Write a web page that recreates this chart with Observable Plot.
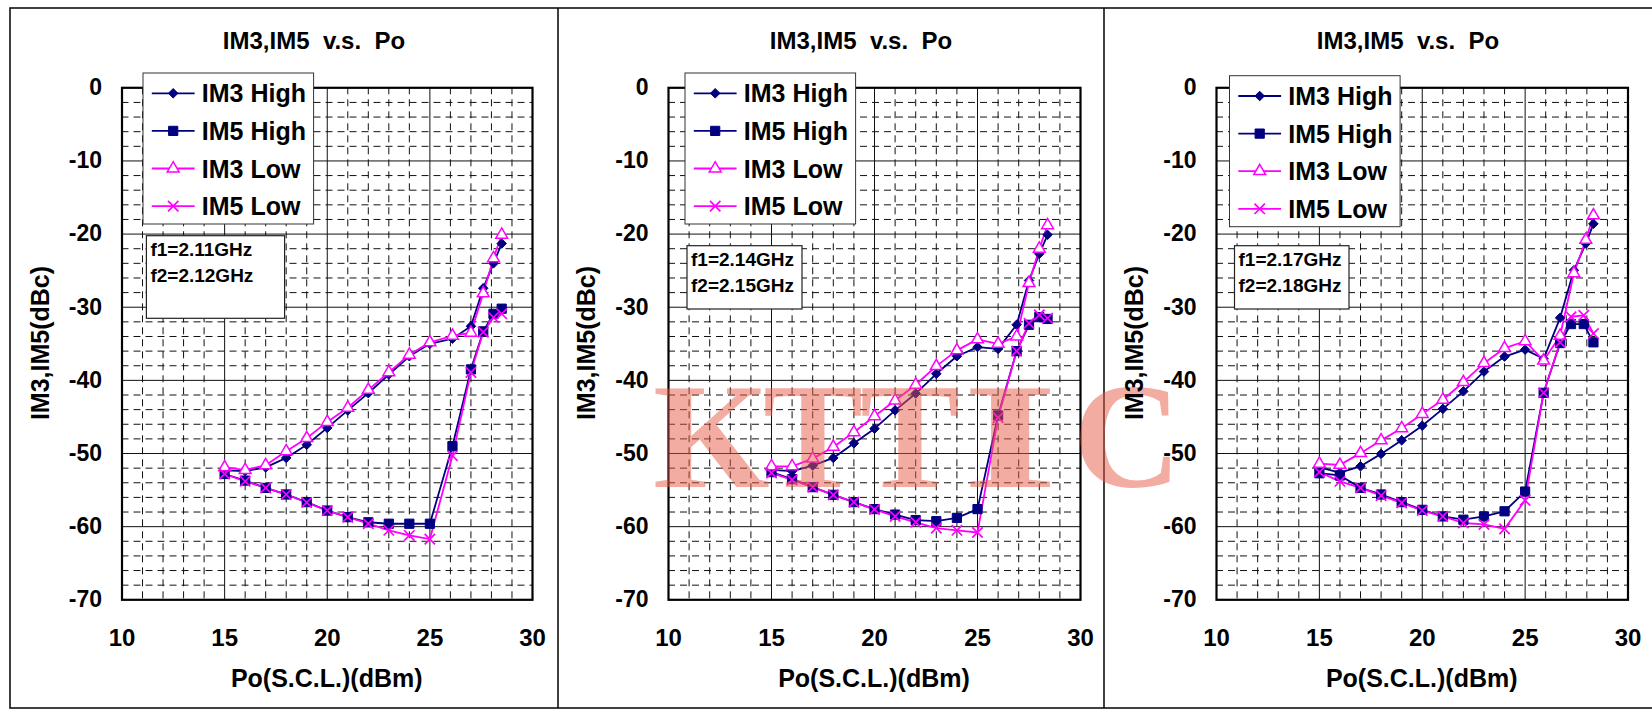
<!DOCTYPE html>
<html><head><meta charset="utf-8">
<script src="https://cdn.jsdelivr.net/npm/d3@7"></script>
<script src="https://cdn.jsdelivr.net/npm/@observablehq/plot@0.6"></script>
<style>
body{margin:0;background:#fff;}
#root{position:relative;width:1652px;height:715px;overflow:hidden;background:#fff;}
.pw{position:absolute;top:0;height:715px;}
.pw svg{display:block;}
#ov{position:absolute;left:0;top:0;pointer-events:none;}
</style></head><body><div id="root"></div>
<script>
// ---------------- data ----------------
const titleText = "IM3,IM5  v.s.  Po";
const xLabel = "Po(S.C.L.)(dBm)";
const yLabel = "IM3,IM5(dBc)";
const seriesNames = ["IM3 High", "IM5 High", "IM3 Low", "IM5 Low"];
const xTicks = [10, 15, 20, 25, 30];
const yTicks = [0, -10, -20, -30, -40, -50, -60, -70];
const freqLabels = [["f1=2.11GHz", "f2=2.12GHz"], ["f1=2.14GHz", "f2=2.15GHz"], ["f1=2.17GHz", "f2=2.18GHz"]];

// panel 1 (2.11 / 2.12 GHz)
const po1 = [15, 16, 17, 18, 19, 20, 21, 22, 23, 24, 25, 26.1, 27, 27.6, 28.1, 28.5];
const im3High1 = [-52.3, -52.4, -51.9, -50.6, -48.8, -46.5, -44.1, -41.75, -39.2, -36.7, -35.0, -34.3, -32.6, -27.4, -24.0, -21.3];
const im5High1 = [-52.8, -53.7, -54.7, -55.6, -56.65, -57.8, -58.7, -59.4, -59.6, -59.6, -59.6, -49.0, -38.5, -33.3, -30.9, -30.2];
const im3Low1 = [-51.9, -52.25, -51.6, -49.7, -47.9, -45.7, -43.75, -41.3, -38.9, -36.5, -34.8, -33.9, -33.5, -28.1, -23.3, -20.1];
const im5Low1 = [-52.8, -53.8, -54.7, -55.6, -56.7, -57.8, -58.7, -59.6, -60.5, -61.2, -61.7, -50.3, -38.9, -33.4, -31.4, -30.9];

// panel 2 (2.14 / 2.15 GHz)
const po2 = [15, 16, 17, 18, 19, 20, 21, 22, 23, 24, 25, 26.0, 26.9, 27.5, 28.0, 28.4];
const im3High2 = [-52.25, -52.4, -51.65, -50.6, -48.6, -46.6, -44.1, -41.8, -39.1, -36.7, -35.45, -35.7, -32.4, -26.35, -22.7, -20.1];
const im5High2 = [-52.55, -53.5, -54.6, -55.65, -56.65, -57.6, -58.35, -59.1, -59.25, -58.8, -57.6, -44.8, -36.0, -32.4, -31.35, -31.6];
const im3Low2 = [-51.75, -51.75, -50.7, -49.1, -47.1, -44.9, -42.75, -40.6, -38.05, -35.9, -34.4, -35.0, -34.0, -26.7, -22.0, -18.8];
const im5Low2 = [-52.65, -53.6, -54.6, -55.65, -56.65, -57.65, -58.6, -59.4, -60.2, -60.5, -60.8, -45.1, -36.0, -32.2, -31.05, -31.5];

// panel 3 (2.17 / 2.18 GHz)
const po3im3 = [15, 16, 17, 18, 19, 20, 21, 22, 23, 24, 25, 25.9, 26.7, 27.37, 27.95, 28.32];
const po3im5 = [15, 16, 17, 18, 19, 20, 21, 22, 23, 24, 25, 25.9, 26.7, 27.23, 27.85, 28.32];
const im3High3 = [-51.9, -52.6, -51.75, -50.05, -48.2, -46.2, -43.9, -41.5, -38.8, -36.75, -35.8, -37.05, -31.45, -24.95, -21.3, -18.6];
const im5High3 = [-52.7, -53.0, -54.7, -55.6, -56.65, -57.7, -58.6, -59.05, -58.6, -57.9, -55.2, -41.7, -34.9, -32.3, -32.3, -34.8];
const im3Low3 = [-51.4, -51.55, -49.95, -48.2, -46.55, -44.6, -42.65, -40.25, -37.65, -35.6, -34.65, -37.3, -33.9, -25.35, -20.8, -17.45];
const im5Low3 = [-52.55, -53.8, -54.7, -55.75, -56.75, -57.8, -58.6, -59.5, -59.7, -60.3, -56.4, -41.7, -34.8, -31.3, -31.1, -33.6];

const watermark = ["K", "T", "T", "I", "C"];

// ---------------- layout ----------------
const NAVY = "#000080", MAG = "#ff00ff";
const FONT = "'Liberation Sans', Arial, Helvetica, sans-serif";
const panels = [
  {left: 0, width: 558, mL: 121.5, mR: 26, x3: po1, x5: po1, d: [im3High1, im5High1, im3Low1, im5Low1],
   leg: [143, 73], fb: [146.4, 235.7, 138.2, 82.6], titleX: 314},
  {left: 558, width: 546, mL: 110, mR: 24, x3: po2, x5: po2, d: [im3High2, im5High2, im3Low2, im5Low2],
   leg: [685, 73], fb: [687, 245.7, 115, 63.3], titleX: 861},
  {left: 1104, width: 548, mL: 112, mR: 24.5, x3: po3im3, x5: po3im5, d: [im3High3, im5High3, im3Low3, im5Low3],
   leg: [1229.5, 75.7], fb: [1234.5, 245.7, 114.5, 63.3], titleX: 1408}
];
const mT = 87.3, mB = 715 - 599.3;

const minorX = d3.range(11, 30).filter(v => v % 5 !== 0);
const majorX = [15, 20, 25];
const minorY = d3.range(-68, 0, 2).filter(v => v % 10 !== 0);
const majorY = [-10, -20, -30, -40, -50, -60];

const styles = [
  {stroke: NAVY, symbol: "diamond2", r: 4.3, fill: NAVY, sw: 1},
  {stroke: NAVY, symbol: "square", r: 5.2, fill: NAVY, sw: 1},
  {stroke: MAG, symbol: "triangle", r: 4.4, fill: "#fff", sw: 1.5},
  {stroke: MAG, symbol: "times", r: 4.8, fill: "none", sw: 1.7}
];

const root = document.getElementById("root");

panels.forEach((p, pi) => {
  const rows = p.d.map((ys, si) => {
    const xs = (si === 1 || si === 3) ? p.x5 : p.x3;
    return xs.map((x, i) => ({x, y: ys[i], s: seriesNames[si]}));
  });
  const marks = [
    Plot.ruleY(minorY, {stroke: "#111", strokeWidth: 1, strokeDasharray: "7,5"}),
    Plot.ruleX(minorX, {stroke: "#111", strokeWidth: 1, strokeDasharray: "7,5"}),
    Plot.ruleY(majorY, {stroke: "#111", strokeWidth: 1}),
    Plot.ruleX(majorX, {stroke: "#111", strokeWidth: 1}),
    Plot.axisY({ticks: yTicks, tickSize: 0, tickPadding: 20, fontSize: 23, fontWeight: "bold", label: null, tickFormat: d => String(d)}),
    Plot.axisX({ticks: xTicks, tickSize: 0, tickPadding: 29, fontSize: 24, fontWeight: "bold", label: null, tickFormat: d => String(d)})
  ];
  rows.forEach((data, si) => {
    const st = styles[si];
    marks.push(Plot.line(data, {x: "x", y: "y", stroke: st.stroke, strokeWidth: 1.8}));
  });
  rows.forEach((data, si) => {
    const st = styles[si];
    marks.push(Plot.dot(data, {x: "x", y: "y", symbol: st.symbol, r: st.r, fill: st.fill, stroke: st.stroke, strokeWidth: st.sw}));
  });
  marks.push(Plot.frame({stroke: "#000", strokeWidth: 2.2}));

  const chart = Plot.plot({
    width: p.width, height: 715,
    marginLeft: p.mL, marginRight: p.mR, marginTop: mT, marginBottom: mB,
    x: {domain: [10, 30]},
    y: {domain: [-70, 0]},
    style: {fontFamily: FONT, fontWeight: "bold", background: "transparent", color: "#000", overflow: "visible"},
    marks
  });
  d3.select(chart).selectAll("text").attr("font-weight", "bold").style("font-weight", "bold").attr("fill", "#000");
  const wrap = document.createElement("div");
  wrap.className = "pw";
  wrap.style.left = p.left + "px";
  wrap.style.width = p.width + "px";
  wrap.appendChild(chart);
  root.appendChild(wrap);
});

// ---------------- overlay: frames, watermark, titles, legends ----------------
const ov = d3.select(root).append("svg").attr("id", "ov").attr("width", 1652).attr("height", 715)
  .style("font-family", FONT).style("font-weight", "bold");

// panel frames
ov.append("rect").attr("x", 10).attr("y", 8).attr("width", 1660).attr("height", 700)
  .attr("fill", "none").attr("stroke", "#111").attr("stroke-width", 1.6);
[558, 1104].forEach(x => ov.append("line").attr("x1", x).attr("x2", x).attr("y1", 8).attr("y2", 708)
  .attr("stroke", "#111").attr("stroke-width", 1.6));

// watermark
const wmX = [653, 763, 860, 962, 1073];
const wmSX = [1, 1, 1, 1.65, 1];
const wm = ov.append("g").attr("font-family", "'Liberation Serif', 'Times New Roman', serif")
  .attr("font-weight", "bold").attr("font-size", 150).attr("fill", "#e85a46").attr("fill-opacity", 0.5);
watermark.forEach((ch, i) => {
  wm.append("text").attr("transform", `translate(${wmX[i]},487) scale(${wmSX[i]},1)`).text(ch);
});

panels.forEach((p, pi) => {
  const plotL = p.left + p.mL, plotR = p.left + p.width - p.mR;
  const cx = (plotL + plotR) / 2;
  // title
  ov.append("text").attr("x", p.titleX).attr("y", 48.5).attr("text-anchor", "middle")
    .attr("font-size", 24).style("white-space", "pre").text(titleText);
  // axis titles
  ov.append("text").attr("x", cx).attr("y", 687.3).attr("text-anchor", "middle")
    .attr("font-size", 25).text(xLabel);
  ov.append("text").attr("transform", `translate(${plotL - 73},343) rotate(-90)`).attr("text-anchor", "middle")
    .attr("font-size", 25).text(yLabel);

  // legend
  const [lx, ly] = p.leg;
  const g = ov.append("g").attr("transform", `translate(${lx},${ly})`);
  g.append("rect").attr("x", 0).attr("y", 0).attr("width", 170.6).attr("height", 151)
    .attr("fill", "#fff").attr("stroke", "#333").attr("stroke-width", 1);
  seriesNames.forEach((name, si) => {
    const st = styles[si];
    const cy = 20.3 + si * 37.6;
    g.append("line").attr("x1", 8.8).attr("x2", 51.6).attr("y1", cy).attr("y2", cy)
      .attr("stroke", st.stroke).attr("stroke-width", 1.8);
    const sym = {diamond2: d3.symbolDiamond2, square: d3.symbolSquare, triangle: d3.symbolTriangle, times: d3.symbolTimes}[st.symbol];
    g.append("path").attr("d", d3.symbol(sym, Math.PI * st.r * st.r)())
      .attr("transform", `translate(30.2,${cy})`)
      .attr("fill", st.fill).attr("stroke", st.stroke).attr("stroke-width", st.sw);
    g.append("text").attr("x", 58.8).attr("y", cy + 9).attr("font-size", 25).text(name);
  });

  // frequency box
  const [fx, fy, fw, fh] = p.fb;
  ov.append("rect").attr("x", fx).attr("y", fy).attr("width", fw).attr("height", fh)
    .attr("fill", "#fff").attr("stroke", "#222").attr("stroke-width", 1.2);
  freqLabels[pi].forEach((t, k) => {
    ov.append("text").attr("x", fx + 4).attr("y", fy + 20.5 + k * 25.3).attr("font-size", 19).text(t);
  });
});
</script></body></html>
